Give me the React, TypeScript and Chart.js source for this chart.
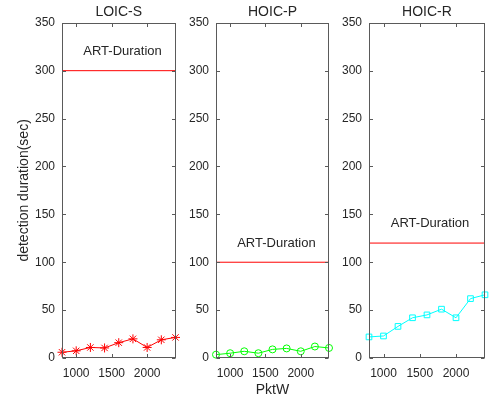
import React, { useEffect, useRef } from 'react';
import { Chart, registerables } from 'chart.js';

Chart.register(...registerables);

const FONT = '"Liberation Sans", Arial, Helvetica, sans-serif';
const TEXT = '#262626';
const AXIS = '#5a5a5a';

// ---- data ----
const pktW = [800, 1000, 1200, 1400, 1600, 1800, 2000, 2200, 2400];
const loicS = [6, 7.5, 11, 10.5, 16, 20, 11, 19, 21.5];
const hoicP = [3.5, 5, 7, 5, 9, 10, 7, 12, 10.5];
const hoicR = [22, 23, 33, 42, 45, 51, 42, 62, 66];
const artDuration = [300, 100, 120];
const panelTitles = ['LOIC-S', 'HOIC-P', 'HOIC-R'];
const xTicks = [1000, 1500, 2000];
const yTicks = [0, 50, 100, 150, 200, 250, 300, 350];
const artLabel = 'ART-Duration';
const yTitle = 'detection duration(sec)';
const xTitle = 'PktW';

const X_MIN = 800;
const X_MAX = 2400;
const Y_MIN = 0;
const Y_MAX = 350;
const ART_LABEL_X = 1100;
const ART_LABEL_DY = 20;

type PanelCfg = {
  title: string;
  values: number[];
  art: number;
  color: string;
  pointStyle: any;
  radius: number;
  canvasLeft: number;
  canvasWidth: number;
  yAxisWidth: number;
  showYTitle: boolean;
  showXTitle: boolean;
};

const panels: PanelCfg[] = [
  { title: panelTitles[0], values: loicS, art: artDuration[0], color: '#ff0000', pointStyle: 'star', radius: 4.5, canvasLeft: 0, canvasWidth: 181, yAxisWidth: 62, showYTitle: true, showXTitle: false },
  { title: panelTitles[1], values: hoicP, art: artDuration[1], color: '#00ff00', pointStyle: 'circle', radius: 3.5, canvasLeft: 180, canvasWidth: 154, yAxisWidth: 36, showYTitle: false, showXTitle: true },
  { title: panelTitles[2], values: hoicR, art: artDuration[2], color: '#00ffff', pointStyle: 'rect', radius: 4, canvasLeft: 334, canvasWidth: 156, yAxisWidth: 35, showYTitle: false, showXTitle: false },
];

const CANVAS_H = 399;

const boxPlugin = {
  id: 'matlabBox',
  afterDraw(chart: any) {
    const { ctx, chartArea, scales } = chart;
    const l = Math.round(chartArea.left) + 0.5;
    const r = Math.round(chartArea.right) - 0.5;
    const t = Math.round(chartArea.top) + 0.5;
    const b = Math.round(chartArea.bottom) - 0.5;
    const tl = 3.5;
    ctx.save();
    ctx.strokeStyle = AXIS;
    ctx.lineWidth = 1;
    ctx.strokeRect(l, t, r - l, b - t);
    ctx.beginPath();
    xTicks.forEach((v) => {
      const px = Math.round(scales.x.getPixelForValue(v)) + 0.5;
      ctx.moveTo(px, b);
      ctx.lineTo(px, b - tl);
      ctx.moveTo(px, t);
      ctx.lineTo(px, t + tl);
    });
    yTicks.forEach((v) => {
      const py = Math.round(scales.y.getPixelForValue(v)) + 0.5;
      ctx.moveTo(l, py);
      ctx.lineTo(l + tl, py);
      ctx.moveTo(r, py);
      ctx.lineTo(r - tl, py);
    });
    ctx.stroke();
    ctx.restore();
  },
};

const artLabelPlugin = {
  id: 'artLabel',
  afterDatasetsDraw(chart: any, _args: any, opts: any) {
    const { ctx, scales } = chart;
    ctx.save();
    ctx.font = `13px ${FONT}`;
    ctx.fillStyle = TEXT;
    ctx.textAlign = 'left';
    ctx.textBaseline = 'middle';
    ctx.fillText(artLabel, scales.x.getPixelForValue(ART_LABEL_X), scales.y.getPixelForValue(opts.value + ART_LABEL_DY));
    ctx.restore();
  },
};

function Panel({ cfg }: { cfg: PanelCfg }) {
  const ref = useRef<HTMLCanvasElement>(null);
  useEffect(() => {
    if (!ref.current) return;
    const chart = new Chart(ref.current, {
      type: 'line',
      data: {
        datasets: [
          {
            data: pktW.map((x, i) => ({ x, y: cfg.values[i] })),
            borderColor: cfg.color,
            backgroundColor: 'transparent',
            borderWidth: 1,
            pointStyle: cfg.pointStyle,
            pointRadius: cfg.radius,
            pointBorderColor: cfg.color,
            pointBackgroundColor: 'transparent',
            pointBorderWidth: 1,
            clip: false as any,
          },
          {
            data: [
              { x: X_MIN, y: cfg.art },
              { x: X_MAX, y: cfg.art },
            ],
            borderColor: '#ff0000',
            backgroundColor: 'transparent',
            borderWidth: 1,
            pointRadius: 0,
          },
        ],
      },
      options: {
        responsive: false,
        animation: false,
        devicePixelRatio: 1,
        layout: { padding: { left: 0, right: 2, top: 0, bottom: 0 } },
        plugins: {
          legend: { display: false },
          tooltip: { enabled: false },
          title: {
            display: true,
            text: cfg.title,
            color: TEXT,
            fullSize: false,
            align: 'center',
            font: { family: FONT, size: 14, weight: 'normal' as any },
            padding: { top: 4, bottom: 2 },
          },
          artLabel: { value: cfg.art },
        } as any,
        scales: {
          x: {
            type: 'linear',
            min: X_MIN,
            max: X_MAX,
            afterBuildTicks: (s: any) => {
              s.ticks = xTicks.map((v) => ({ value: v }));
            },
            afterFit: (s: any) => {
              s.height = 41;
            },
            grid: { display: false, drawTicks: false },
            border: { display: false },
            ticks: {
              color: TEXT,
              font: { family: FONT, size: 12 },
              padding: 8,
              maxRotation: 0,
              autoSkip: false,
              callback: (v: any) => String(v),
            },
            title: {
              display: cfg.showXTitle,
              text: xTitle,
              color: TEXT,
              font: { family: FONT, size: 14 },
              padding: { top: 0, bottom: 0 },
            },
          },
          y: {
            type: 'linear',
            min: Y_MIN,
            max: Y_MAX,
            afterBuildTicks: (s: any) => {
              s.ticks = yTicks.map((v) => ({ value: v }));
            },
            afterFit: (s: any) => {
              s.width = cfg.yAxisWidth;
            },
            grid: { display: false, drawTicks: false },
            border: { display: false },
            ticks: {
              color: TEXT,
              font: { family: FONT, size: 12 },
              padding: 7,
              autoSkip: false,
              callback: (v: any) => String(v),
            },
            title: {
              display: cfg.showYTitle,
              text: yTitle,
              color: TEXT,
              font: { family: FONT, size: 14 },
              padding: { top: 16, bottom: 0 },
            },
          },
        },
      },
      plugins: [boxPlugin, artLabelPlugin],
    });
    return () => chart.destroy();
  }, [cfg]);
  return (
    <canvas
      ref={ref}
      width={cfg.canvasWidth}
      height={CANVAS_H}
      style={{ position: 'absolute', left: cfg.canvasLeft, top: 0, width: cfg.canvasWidth, height: CANVAS_H, display: 'block' }}
    />
  );
}

export default function App() {
  return (
    <div style={{ position: 'fixed', left: 0, top: 0, width: 490, height: 399, background: '#ffffff', overflow: 'hidden' }}>
      {panels.map((p) => (
        <Panel key={p.title} cfg={p} />
      ))}
    </div>
  );
}
